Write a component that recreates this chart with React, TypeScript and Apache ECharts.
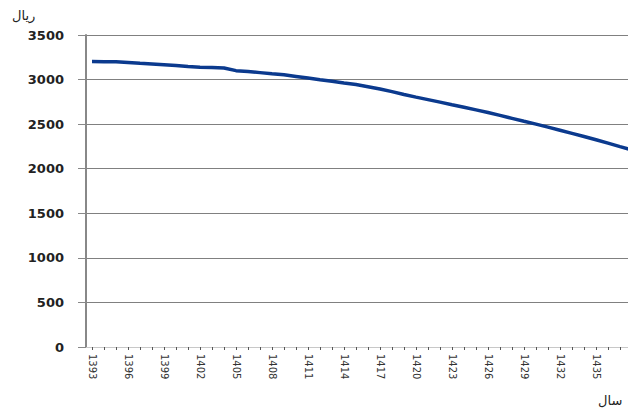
import React, { useEffect, useRef } from "react";
import * as echarts from "echarts";

const years: string[] = [
  "1393", "1394", "1395", "1396", "1397", "1398", "1399", "1400", "1401", "1402",
  "1403", "1404", "1405", "1406", "1407", "1408", "1409", "1410", "1411", "1412",
  "1413", "1414", "1415", "1416", "1417", "1418", "1419", "1420", "1421", "1422",
  "1423", "1424", "1425", "1426", "1427", "1428", "1429", "1430", "1431", "1432",
  "1433", "1434", "1435", "1436", "1437", "1438",
];

const values: number[] = [
  3202, 3201, 3199, 3192, 3183, 3175, 3167, 3158, 3147, 3139,
  3135, 3130, 3100, 3090, 3078, 3065, 3053, 3035, 3017, 2998,
  2980, 2962, 2945, 2920, 2895, 2865, 2833, 2803, 2775, 2747,
  2718, 2690, 2660, 2630, 2598, 2565, 2532, 2500, 2466, 2432,
  2397, 2362, 2325, 2287, 2248, 2210,
];

const yTitle = "ریال";
const xTitle = "سال";
const lastLabelIndex = 42;

export default function App() {
  const ref = useRef<HTMLDivElement>(null);
  useEffect(() => {
    if (!ref.current) return;
    const chart = echarts.init(ref.current, null, { renderer: "svg" });
    chart.setOption({
      animation: false,
      backgroundColor: "#ffffff",
      grid: { left: 86, right: 2, top: 35, bottom: 62, containLabel: false },
      xAxis: {
        type: "category",
        data: years,
        boundaryGap: true,
        axisLine: { show: true, lineStyle: { color: "#c8c8c8", width: 1 } },
        axisTick: {
          show: true,
          alignWithLabel: true,
          interval: 0,
          length: 3,
          lineStyle: { color: "#555", width: 1 },
        },
        axisLabel: {
          interval: (i: number) => i % 3 === 0 && i <= lastLabelIndex,
          rotate: -90,
          margin: 7,
          fontSize: 10,
          color: "#333",
          fontFamily: "DejaVu Sans",
        },
        splitLine: { show: false },
      },
      yAxis: {
        type: "value",
        min: 0,
        max: 3500,
        interval: 500,
        axisLine: { show: true, lineStyle: { color: "#888", width: 2 } },
        axisTick: { show: true, length: 8, inside: false, lineStyle: { color: "#888" } },
        axisLabel: {
          margin: 22,
          fontSize: 13,
          fontWeight: "bold",
          color: "#222",
          fontFamily: "DejaVu Sans",
          formatter: (v: number) => String(v),
        },
        splitLine: { show: true, lineStyle: { color: "#808080", width: 1 } },
      },
      series: [
        {
          type: "line",
          data: values,
          showSymbol: false,
          smooth: false,
          lineStyle: { color: "#0b3a8e", width: 3.5 },
          itemStyle: { color: "#0b3a8e" },
        },
      ],
      graphic: [
        {
          type: "text",
          left: 12,
          top: 9,
          style: { text: yTitle, fontSize: 13, fill: "#222", fontFamily: "DejaVu Sans" },
        },
        {
          type: "text",
          left: 598,
          top: 394,
          style: { text: xTitle, fontSize: 13, fill: "#222", fontFamily: "DejaVu Sans" },
        },
      ],
    });
    return () => chart.dispose();
  }, []);
  return (
    <div
      ref={ref}
      style={{ position: "fixed", left: 0, top: 0, width: 640, height: 409 }}
    />
  );
}
